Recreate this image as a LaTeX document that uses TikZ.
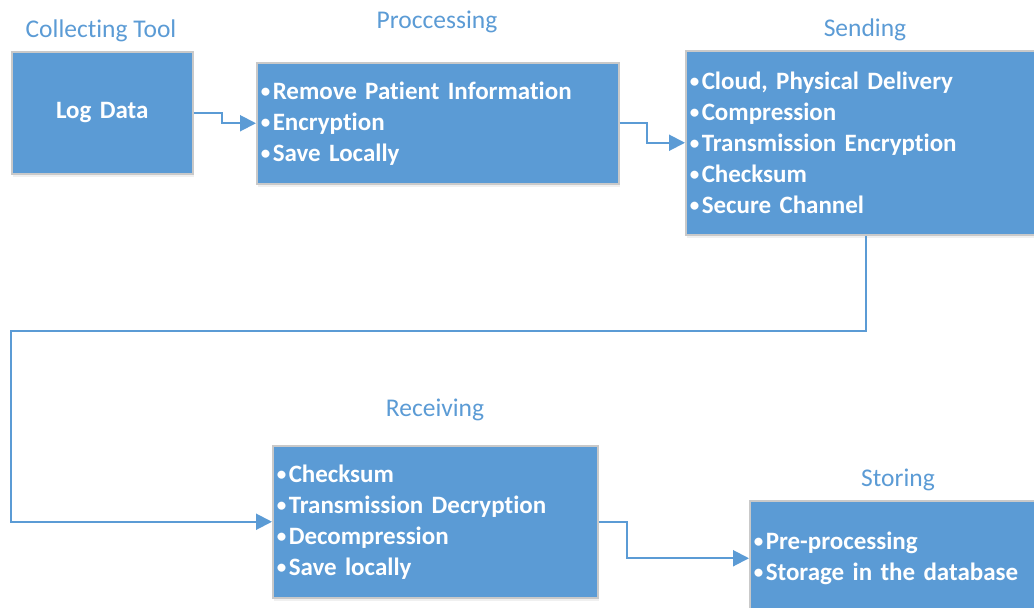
\documentclass[tikz,border=0pt]{standalone}
\usepackage{fontspec}
\setmainfont{Carlito}[Ligatures={NoCommon}]
\usetikzlibrary{arrows.meta,calc,shadows}
\definecolor{flowblue}{HTML}{5B9BD5}
\definecolor{boxedge}{HTML}{C9C9C9}
\newcommand{\itembullet}{\makebox[13pt][l]{\hspace{1pt}\raisebox{1.5pt}{\fontsize{19}{19}\selectfont•}}}
\begin{document}
\begin{tikzpicture}[x=1pt,y=1pt,
  stagebox/.style={draw=boxedge, line width=1.5pt, fill=flowblue, anchor=north west,
    text=white, font=\fontsize{25}{31}\selectfont\bfseries, align=left,
    inner xsep=3pt, inner ysep=0pt,
    drop shadow={opacity=0.12, shadow xshift=1pt, shadow yshift=-3pt}},
  stagetitle/.style={text=flowblue, font=\fontsize{25.5}{28}\selectfont, anchor=center},
  flow/.style={draw=flowblue, line width=2pt, -{Triangle[length=16pt,width=16pt]}}]
\useasboundingbox (0,0) rectangle (1034,-608);
\clip (0,0) rectangle (1034,-608);

% stage boxes
\node[stagebox, minimum width=181pt, minimum height=122pt, text width=175pt, align=center]
  (log) at (11,-51) {Log Data};
\node[stagebox, minimum width=362pt, minimum height=121pt, text width=356pt]
  (proc) at (256,-62) {\itembullet Remove Patient Information\\\itembullet Encryption\\\itembullet Save Locally};
\node[stagebox, minimum width=360pt, minimum height=184pt, text width=354pt]
  (send) at (685,-50) {\itembullet Cloud, Physical Delivery\\\itembullet Compression\\\itembullet Transmission Encryption\\\itembullet Checksum\\\itembullet Secure Channel};
\node[stagebox, minimum width=325pt, minimum height=152pt, text width=319pt]
  (recv) at (272,-445) {\itembullet Checksum\\\itembullet Transmission Decryption\\\itembullet Decompression\\\itembullet Save locally};
\node[stagebox, minimum width=298pt, minimum height=115pt, text width=292pt]
  (store) at (749,-500) {\itembullet Pre-processing\\\itembullet Storage in the database};

% stage titles
\node[stagetitle] (tlog)   at (101,-31)  {Collecting Tool};
\node[stagetitle] (tproc)  at (437,-22)  {Proccessing};
\node[stagetitle] (tsend)  at (865,-30)  {Sending};
\node[stagetitle] (trecv)  at (435,-410) {Receiving};
\node[stagetitle] (tstore) at (898,-480) {Storing};

% connectors
\draw[flow] (log.east) -- ++(28,0) |- (proc.west);
\draw[flow] (proc.east) -- ++(27,0) |- (send.west);
\draw[flow] (send.south) -- ++(0,-95) -| (log.west |- recv.west) -- (recv.west);
\draw[flow] (recv.east) -- ++(28,0) |- (store.west);
\end{tikzpicture}
\end{document}
